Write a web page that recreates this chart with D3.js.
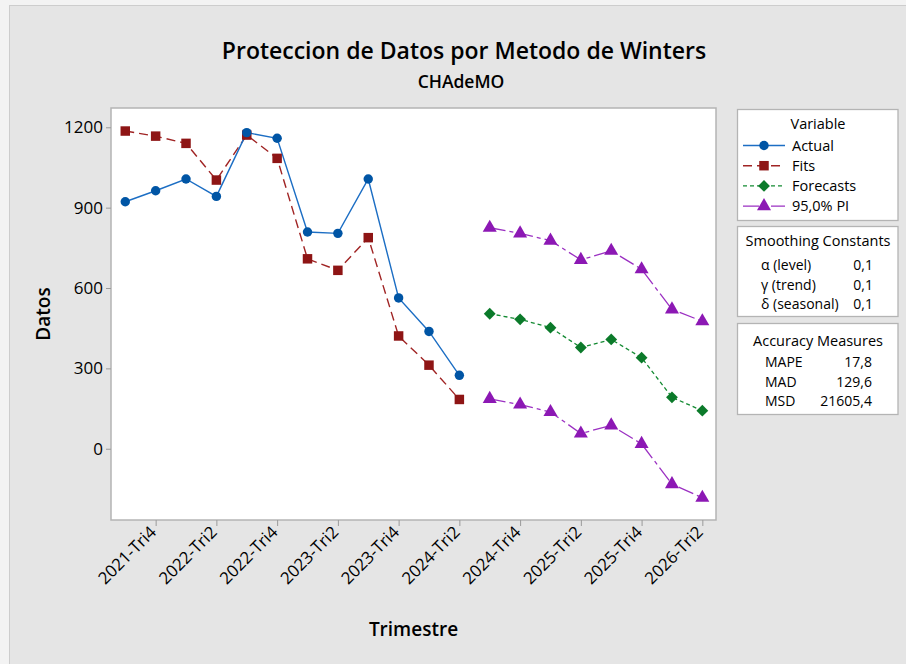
<!DOCTYPE html>
<html><head><meta charset="utf-8">
<script src="https://cdn.jsdelivr.net/npm/d3@7"></script>
<style>
html,body{margin:0;padding:0;background:#f3f3f3;}
svg{display:block;font-family:"Open Sans","Noto Sans",sans-serif;}
</style></head>
<body>
<script>
// ---- data ----
const quarters = ["2021-Tri3","2021-Tri4","2022-Tri1","2022-Tri2","2022-Tri3","2022-Tri4","2023-Tri1","2023-Tri2","2023-Tri3","2023-Tri4","2024-Tri1","2024-Tri2","2024-Tri3","2024-Tri4","2025-Tri1","2025-Tri2","2025-Tri3","2025-Tri4","2026-Tri1","2026-Tri2"];
const tickLabels = ["2021-Tri4","2022-Tri2","2022-Tri4","2023-Tri2","2023-Tri4","2024-Tri2","2024-Tri4","2025-Tri2","2025-Tri4","2026-Tri2"];
const yTicks = [0,300,600,900,1200];
const actual = [922,963,1007,942,1180,1159,809,804,1007,563,438,274];
const fits = [1186,1167,1140,1003,1171,1084,709,666,788,421,312,184];
const forecasts = [504,483,452,378,408,340,192,142];
const upperPI = [825,804,777,705,739,670,520,476];
const lowerPI = [186,165,137,57,87,18,-132,-183];
const forecastStart = 12;
const smoothing = [["α (level)","0,1"],["γ (trend)","0,1"],["δ (seasonal)","0,1"]];
const accuracy = [["MAPE","17,8"],["MAD","129,6"],["MSD","21605,4"]];

const W=906,H=664;
const svg=d3.select("body").append("svg").attr("width",W).attr("height",H);
svg.append("rect").attr("x",9.5).attr("y",5.5).attr("width",W).attr("height",H).attr("fill","#e5e5e5").attr("stroke","#cdcdcd");

const plot={l:111,t:108,r:716,b:520};
const x=d3.scaleLinear().domain([-0.47,19.45]).range([plot.l,plot.r]);
const y=d3.scaleLinear().domain([-266,1272]).range([plot.b,plot.t]);

svg.append("rect").attr("x",plot.l).attr("y",plot.t).attr("width",plot.r-plot.l).attr("height",plot.b-plot.t)
  .attr("fill","#fff").attr("stroke","#b4b4b4").attr("stroke-width",1.5);

// titles
svg.append("text").attr("x",464).attr("y",59).attr("text-anchor","middle").attr("font-size",23).attr("font-weight",600).attr("fill","#000").text("Proteccion de Datos por Metodo de Winters");
svg.append("text").attr("x",461).attr("y",88).attr("text-anchor","middle").attr("font-size",17.5).attr("font-weight",600).attr("fill","#000").text("CHAdeMO");

// y axis
const yAxis=d3.axisLeft(y).tickValues(yTicks).tickFormat(d3.format("d")).tickSize(5).tickPadding(3);
const ga=svg.append("g").attr("transform",`translate(${plot.l},0)`).call(yAxis);
ga.select(".domain").remove();
ga.selectAll(".tick line").attr("stroke","#9a9a9a");
ga.selectAll(".tick text").attr("font-size",17).attr("font-family","'Open Sans',sans-serif").attr("fill","#000");

// x axis
const tickIdx=tickLabels.map(t=>quarters.indexOf(t));
const xAxis=d3.axisBottom(x).tickValues(tickIdx).tickFormat(i=>quarters[i]).tickSize(6).tickPadding(4);
const gx=svg.append("g").attr("transform",`translate(0,${plot.b})`).call(xAxis);
gx.select(".domain").remove();
gx.selectAll(".tick line").attr("stroke","#9a9a9a");
gx.selectAll(".tick text").attr("font-size",16.8).attr("font-family","'Open Sans',sans-serif").attr("fill","#000")
  .attr("text-anchor","end").attr("dy","0.35em").attr("transform","translate(-3,9) rotate(-45)").attr("y",0).attr("x",0);

svg.append("text").attr("transform",`translate(50,${(plot.t+plot.b)/2}) rotate(-90)`).attr("text-anchor","middle").attr("font-size",19).attr("font-weight",600).attr("fill","#000").text("Datos");
svg.append("text").attr("x",(plot.l+plot.r)/2).attr("y",636).attr("text-anchor","middle").attr("font-size",19).attr("font-weight",600).attr("fill","#000").text("Trimestre");

// series
const C={act:"#0055a5",actL:"#1c6ec4",fit:"#8e1515",fitL:"#a02424",fc:"#0b7a2a",fcL:"#138a32",pi:"#8c18b4",piL:"#9b30c2"};
const line=d3.line().x(d=>x(d.i)).y(d=>y(d.v));
const mk=(arr,off)=>arr.map((v,k)=>({i:k+off,v}));
const sActual=mk(actual,0), sFits=mk(fits,0), sFc=mk(forecasts,forecastStart), sUp=mk(upperPI,forecastStart), sLo=mk(lowerPI,forecastStart);

const g=svg.append("g");
g.append("path").datum(sFits).attr("d",line).attr("fill","none").attr("stroke",C.fitL).attr("stroke-width",1.4).attr("stroke-dasharray","9,5");
g.append("path").datum(sActual).attr("d",line).attr("fill","none").attr("stroke",C.actL).attr("stroke-width",1.4);
g.append("path").datum(sFc).attr("d",line).attr("fill","none").attr("stroke",C.fcL).attr("stroke-width",1.3).attr("stroke-dasharray","4,3");
[sUp,sLo].forEach(s=>g.append("path").datum(s).attr("d",line).attr("fill","none").attr("stroke",C.piL).attr("stroke-width",1.3).attr("stroke-dasharray","16,4,4,4"));

const sym={circle:d3.symbol(d3.symbolCircle,70),square:d3.symbol(d3.symbolSquare,90),diamond:d3.symbol(d3.symbolSquare,70),triangle:d3.symbol(d3.symbolTriangle,85)};
function markers(data,type,col,rot){
  g.selectAll(null).data(data).enter().append("path").attr("d",sym[type]())
   .attr("transform",d=>`translate(${x(d.i)},${y(d.v)})${rot?" rotate(45)":""}`).attr("fill",col);
}
markers(sFits,"square",C.fit);
markers(sActual,"circle",C.act);
markers(sFc,"diamond",C.fc,true);
markers(sUp,"triangle",C.pi);
markers(sLo,"triangle",C.pi);

// legend boxes
const lx=737.5,lw=160.5;
function box(y0,h){svg.append("rect").attr("x",lx).attr("y",y0).attr("width",lw).attr("height",h).attr("fill","#fff").attr("stroke","#b4b4b4").attr("stroke-width",1.3);}
box(109.5,111);box(226.5,90);box(323.5,91);

svg.append("text").attr("x",818).attr("y",129).attr("text-anchor","middle").attr("font-size",14.5).attr("font-weight",500).attr("fill","#000").text("Variable");
const legItems=[
  {name:"Actual",col:C.act,lc:C.actL,dash:null,type:"circle"},
  {name:"Fits",col:C.fit,lc:C.fitL,dash:"9,5",type:"square"},
  {name:"Forecasts",col:C.fc,lc:C.fcL,dash:"4,3",type:"diamond",rot:true},
  {name:"95,0% PI",col:C.pi,lc:C.piL,dash:"16,4,4,4",type:"triangle"}];
legItems.forEach((it,k)=>{
  const yy=145.5+k*20.2;
  svg.append("line").attr("x1",743).attr("x2",785).attr("y1",yy).attr("y2",yy).attr("stroke",it.lc).attr("stroke-width",1.4).attr("stroke-dasharray",it.dash);
  svg.append("path").attr("d",sym[it.type]()).attr("transform",`translate(764,${yy})${it.rot?" rotate(45)":""}`).attr("fill",it.col);
  svg.append("text").attr("x",792).attr("y",yy+5).attr("font-size",14.5).attr("font-weight",500).attr("fill","#000").text(it.name);
});

svg.append("text").attr("x",818).attr("y",246).attr("text-anchor","middle").attr("font-size",14.5).attr("font-weight",500).attr("fill","#000").text("Smoothing Constants");
smoothing.forEach((r,k)=>{
  const yy=270+k*19.5;
  svg.append("text").attr("x",761).attr("y",yy).attr("font-size",14).attr("fill","#000").text(r[0]);
  svg.append("text").attr("x",873).attr("y",yy).attr("text-anchor","end").attr("font-size",14).attr("fill","#000").text(r[1]);
});
svg.append("text").attr("x",818).attr("y",346).attr("text-anchor","middle").attr("font-size",14.5).attr("font-weight",500).attr("fill","#000").text("Accuracy Measures");
accuracy.forEach((r,k)=>{
  const yy=367+k*19.5;
  svg.append("text").attr("x",765).attr("y",yy).attr("font-size",14).attr("fill","#000").text(r[0]);
  svg.append("text").attr("x",872).attr("y",yy).attr("text-anchor","end").attr("font-size",14).attr("fill","#000").text(r[1]);
});
</script>
</body></html>
